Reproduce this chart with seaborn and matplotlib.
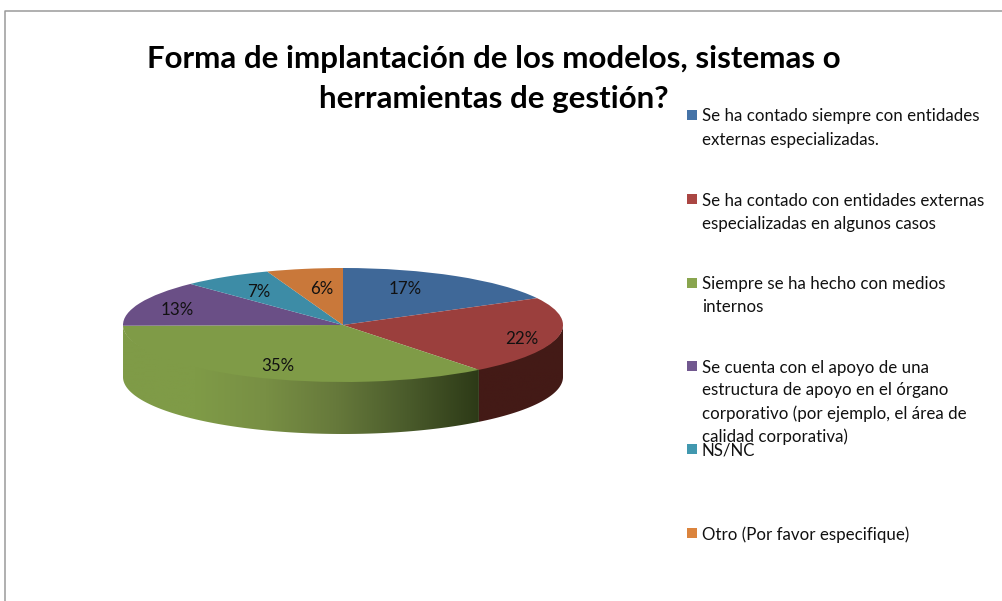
import numpy as np
import matplotlib
matplotlib.use("Agg")
import matplotlib.pyplot as plt
from matplotlib.colors import to_rgb
from matplotlib.patches import Polygon, Rectangle
import seaborn as sns

# ================================
# DATA
# ================================
title_lines = ["Forma de implantación de los modelos, sistemas o",
               "herramientas de gestión?"]
categories = [
    ["Se ha contado siempre con entidades", "externas especializadas."],
    ["Se ha contado con entidades externas", "especializadas en algunos casos"],
    ["Siempre se ha hecho con medios", "internos"],
    ["Se cuenta con el apoyo de una", "estructura de apoyo en el órgano",
     "corporativo (por ejemplo, el área de", "calidad corporativa)"],
    ["NS/NC"],
    ["Otro (Por favor especifique)"],
]
values = [17.2, 22.2, 35.4, 13.0, 6.6, 5.6]

top_colors = ["#3f6898", "#9b3f3d", "#7f9b47", "#6a4f86", "#3d8ca6", "#c9783a"]
legend_colors = ["#4573a7", "#aa4643", "#89a54e", "#71588f", "#4198af", "#db843d"]
label_px = [(405, 289), (522, 339), (278, 366), (177, 310), (259, 292), (322, 289)]

# ================================
# LAYOUT (pixels of the 1003x601 picture)
# ================================
W, H = 1003, 601
cx, cy = 343, 325
rx, ry = 220, 57
depth = 52 / ry

sns.set_theme(style="white")
plt.rcParams["font.family"] = ["Lato", "DejaVu Sans"]

fig = plt.figure(figsize=(W / 100, H / 100), dpi=100, facecolor="white")

# ================================
# PIE: unit circle squashed by the axes limits
# ================================
ax = fig.add_axes([0, 0, 1, 1])
wedges, texts, autotexts = ax.pie(values, colors=sns.color_palette(top_colors),
                                  startangle=90, counterclock=False,
                                  autopct="%1.0f%%", pctdistance=0.75,
                                  wedgeprops={"linewidth": 0, "zorder": 3},
                                  textprops={"fontsize": 12.2, "color": "#111111"})

for t, (px, py) in zip(autotexts, label_px):
    t.set_position(((px - cx) / rx, (cy - py) / ry))
    t.set_zorder(6)

# side wall: only the front half of the rim shows, shaded left to right
edges = np.cumsum([0] + values) / sum(values) * 360
wall_shades = {
    1: ["#431a16", "#431a16"],
    2: ["#7f9b47", "#7f9b47", "#788f44", "#66793b", "#4a5b2b", "#2d3a17"],
}
for i, shades in wall_shades.items():
    ang = np.radians(np.linspace(max(edges[i], 90), min(edges[i + 1], 270), 200))
    x, y = np.sin(ang), np.cos(ang)
    # top edge runs a little under the wedges so no seam shows
    outline = np.column_stack([np.r_[x, x[::-1]], np.r_[y * 0.96, y[::-1] - depth]])
    clip = Polygon(outline, transform=ax.transData, facecolor="none", edgecolor="none")
    ax.add_patch(clip)
    gradient = np.array([to_rgb(c) for c in sns.blend_palette(shades, n_colors=256)])
    img = ax.imshow(gradient[np.newaxis, :, :], aspect="auto", interpolation="bilinear",
                    extent=(x.min(), x.max(), (y - depth).min(), 0), zorder=1)
    img.set_clip_path(clip)

ax.set_aspect("auto")
ax.set_xlim(-cx / rx, (W - cx) / rx)
ax.set_ylim(-(H - cy) / ry, cy / ry)
ax.axis("off")

# ================================
# TEXT, LEGEND AND BORDER IN PIXEL COORDINATES
# ================================
over = fig.add_axes([0, 0, 1, 1], facecolor="none")
over.set_xlim(0, W)
over.set_ylim(H, 0)
over.axis("off")

over.plot([5, 5, W], [H, 11, 11], color="#9a9a9a", linewidth=1.1)

for line, y in zip(title_lines, [59, 99]):
    over.text(494, y, line, ha="center", va="center", fontsize=22.5,
              fontweight="bold", color="black")

legend_y = [115, 199, 283, 366, 449, 533]
for lines, color, y0 in zip(categories, legend_colors, legend_y):
    over.add_patch(Rectangle((687, y0 - 5), 10, 10, facecolor=color, edgecolor="none"))
    for j, line in enumerate(lines):
        over.text(702, y0 + 1.5 + j * 23, line, ha="left", va="center",
                  fontsize=12.2, color="#111111")

fig.savefig("out.png", dpi=100)
